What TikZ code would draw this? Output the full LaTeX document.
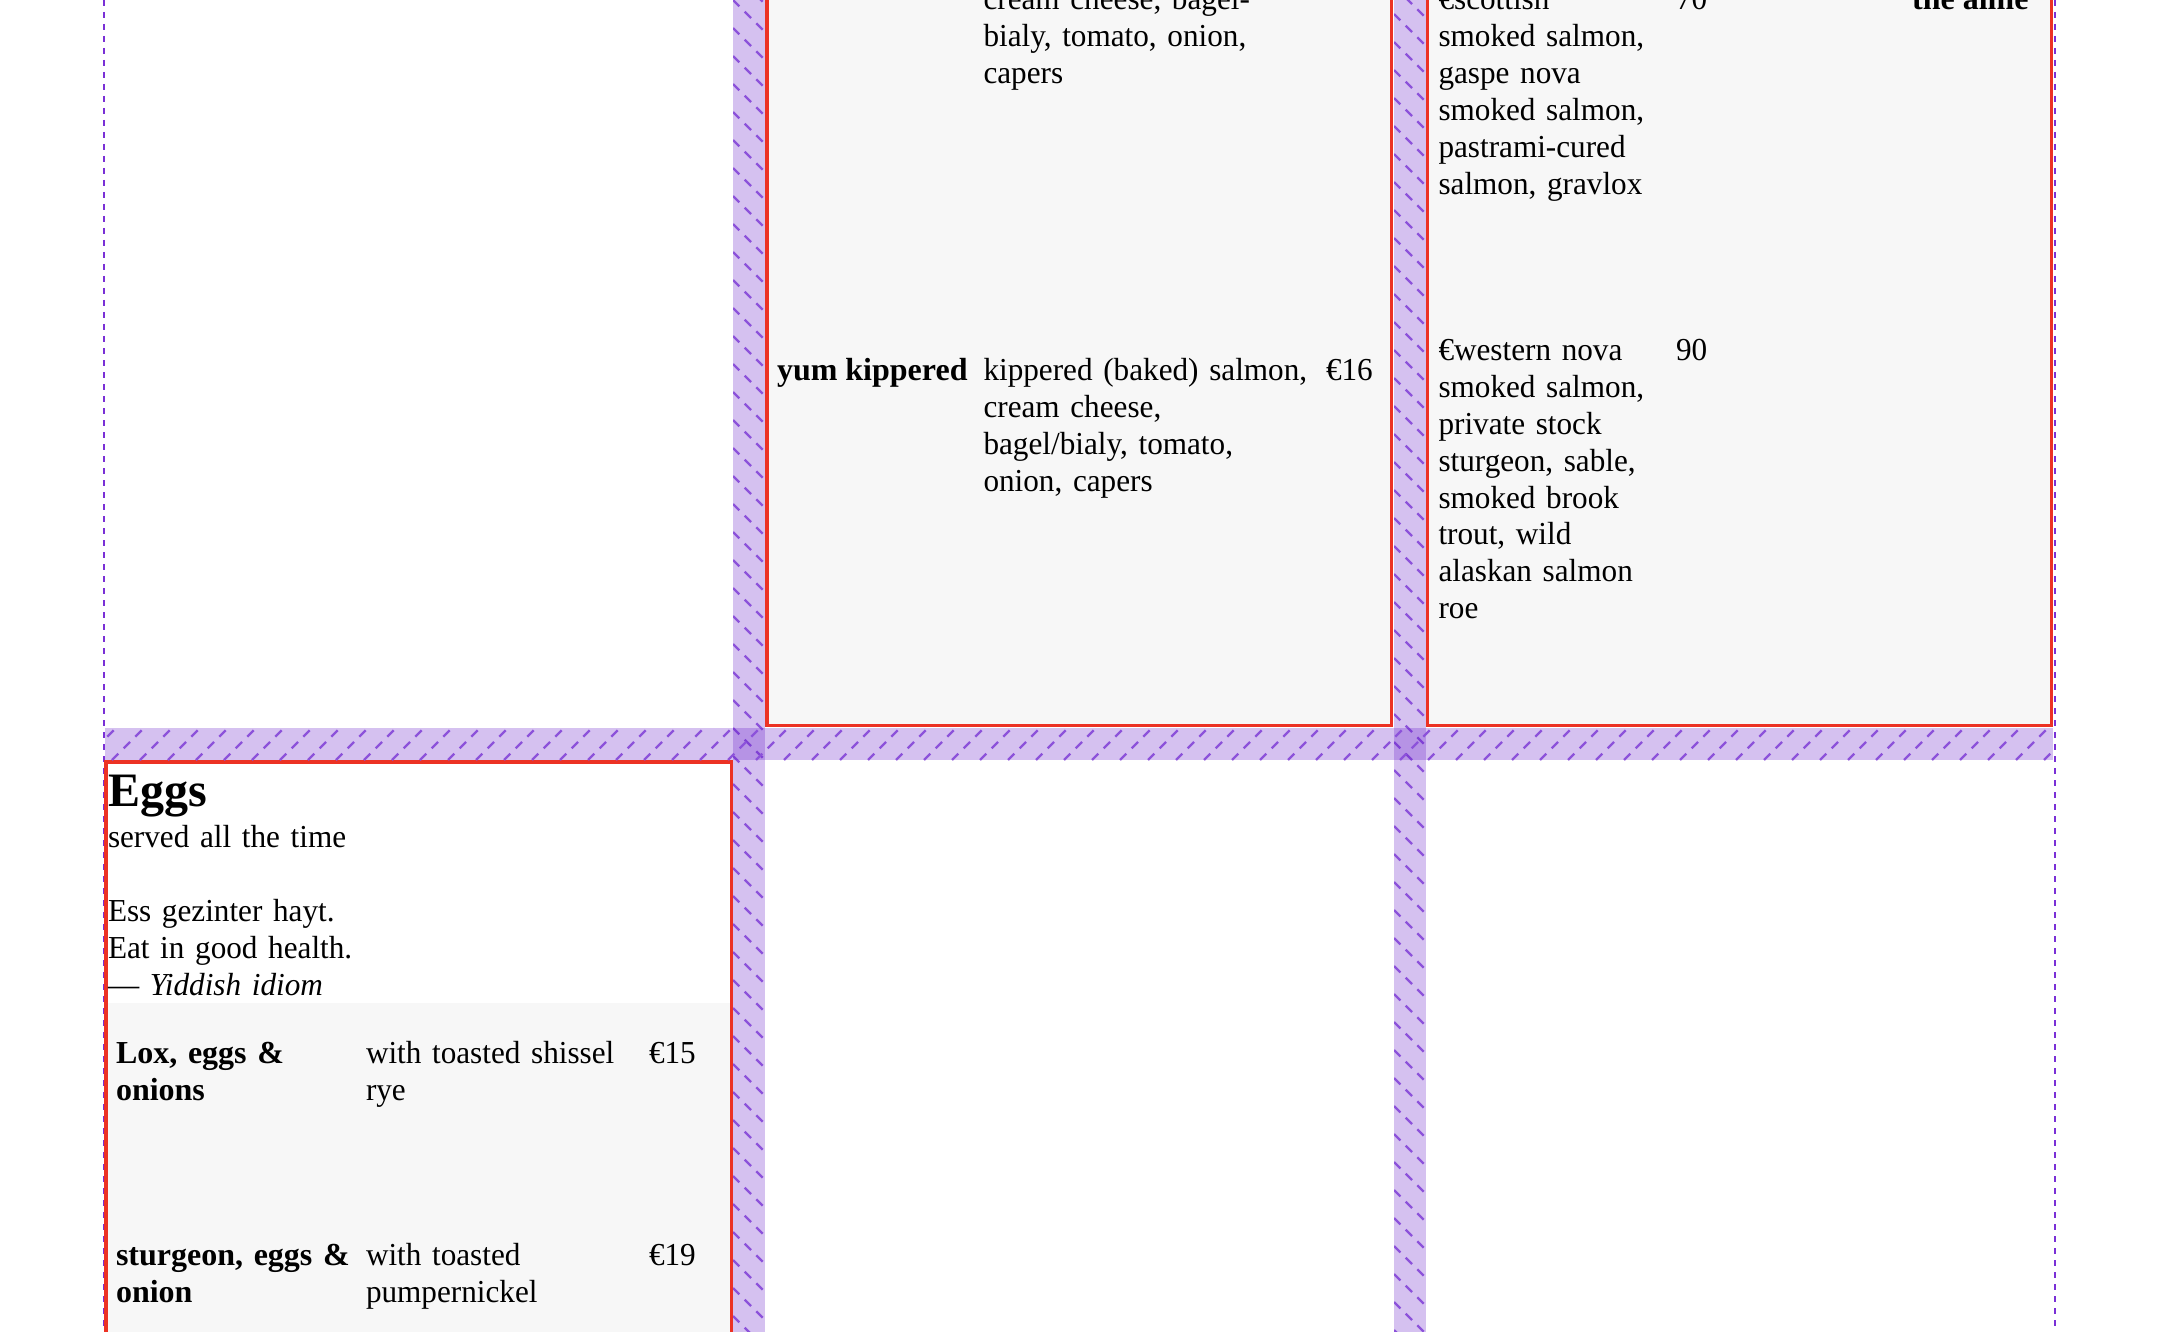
\documentclass[tikz,border=0pt]{standalone}
\usepackage{fontspec}
\setmainfont{Liberation Serif}[UprightFeatures={FakeStretch=0.975}, ItalicFeatures={FakeStretch=0.975}]
\definecolor{pageblue}{RGB}{236,240,250}
\definecolor{boxred}{RGB}{236,50,36}
\definecolor{boxbg}{RGB}{247,247,247}
\definecolor{gapfill}{RGB}{95,18,198}
\definecolor{hatchcol}{RGB}{140,82,218}
\definecolor{gridcol}{RGB}{122,48,214}
\pgfdeclareradialshading{pagebg}{\pgfpoint{0bp}{0bp}}{color(0bp)=(white); color(25bp)=(white); color(50bp)=(pageblue)}
\tikzset{
  txt/.style={inner sep=0pt, outer sep=0pt, font=\fontsize{16}{18.5}\selectfont, anchor=base west},
  bold/.style={font=\fontsize{16}{18.5}\selectfont\bfseries},
  blk/.style={txt, text width=300pt, align=left},
  gapbox/.style={fill=gapfill, fill opacity=0.26},
  hatchline/.style={draw=hatchcol, line width=1.2pt, dash pattern=on 4.5pt off 3.75pt},
  gridedge/.style={draw=gridcol, line width=1.1pt, dash pattern=on 3pt off 3pt},
  redbox/.style={draw=boxred, line width=1.75pt},
}
\begin{document}
\begin{tikzpicture}[x=0.5pt, y=-0.5pt]
\useasboundingbox (0,0) rectangle (2174,1332);
% page background
\begin{scope}
  \clip (0,0) rectangle (2174,1332);
  \fill[white] (0,0) rectangle (2174,1332);
  \shade[shading=pagebg] (1087,0) ellipse [x radius=1700, y radius=1700];
\end{scope}

% outer grid edges
\draw[gridedge] (104,0) -- (104,1340);
\draw[gridedge] (2055,0) -- (2055,1340);

% boxes
\fill[boxbg] (765,-10) rectangle (1393,727);
\draw[redbox] (766.75,-10) rectangle (1391.25,725.25);
\fill[boxbg] (1425.5,-10) rectangle (2053,727);
\draw[redbox] (1427.25,-10) rectangle (2051.25,725.25);
\fill[boxbg] (107.5,1003) rectangle (729.5,1345);
\draw[redbox] (105.75,761.75) rectangle (731.25,1350);

% gaps
\fill[gapbox] (733,0) rectangle (765,1332);
\begin{scope}
  \clip (733,0) rectangle (765,1332);
  \foreach \y in {-56,-28,...,1340} \draw[hatchline] (733,\y) -- ++(32,32);
\end{scope}
\fill[gapbox] (1394,0) rectangle (1425.5,1332);
\begin{scope}
  \clip (1394,0) rectangle (1425.5,1332);
  \foreach \y in {-42,-14,...,1340} \draw[hatchline] (1394,\y) -- ++(32,32);
\end{scope}
\fill[gapbox] (105,728) rectangle (2053,760);
\begin{scope}
  \clip (105,728) rectangle (2053,760);
  \foreach \x in {56,84,...,2080} \draw[hatchline] (\x,760) -- ++(32,-32);
\end{scope}

% middle box texts
\node[blk] (m1desc) at (983.5,10) {cream cheese, bagel-\\bialy, tomato, onion,\\capers};
\node[txt,bold] (m2name) at (777,380) {yum kippered};
\node[blk] (m2desc) at (983.5,380) {kippered (baked) salmon,\\cream cheese,\\bagel/bialy, tomato,\\onion, capers};
\node[txt] (m2price) at (1326,380) {€16};

% right box texts
\node[blk] (r1desc) at (1438.5,10) {€scottish\\smoked salmon,\\gaspe nova\\smoked salmon,\\pastrami-cured\\salmon, gravlox};
\node[txt] (r1price) at (1676,10) {70};
\node[txt,bold,anchor=base east] (r1name) at (2028.5,10) {the aime};
\node[blk] (r2desc) at (1438.5,360) {€western nova\\smoked salmon,\\private stock\\sturgeon, sable,\\smoked brook\\trout, wild\\alaskan salmon\\roe};
\node[txt] (r2price) at (1676,360) {90};

% eggs box texts
\node[txt, font=\fontsize{24}{27.6}\selectfont\bfseries] (eggsh) at (108,806.5) {Eggs};
\node[blk] (eggsub) at (108,847) {served all the time};
\node[blk] (quote) at (108,921) {Ess gezinter hayt.\\Eat in good health.\\— \textit{Yiddish idiom}};
\node[blk,bold] (e1name) at (116,1063) {Lox, eggs \&\\onions};
\node[blk] (e1desc) at (366,1063) {with toasted shissel\\rye};
\node[txt] (e1price) at (649,1063) {€15};
\node[blk,bold] (e2name) at (116,1265) {sturgeon, eggs \&\\onion};
\node[blk] (e2desc) at (366,1265) {with toasted\\pumpernickel};
\node[txt] (e2price) at (649,1265) {€19};
\end{tikzpicture}
\end{document}
